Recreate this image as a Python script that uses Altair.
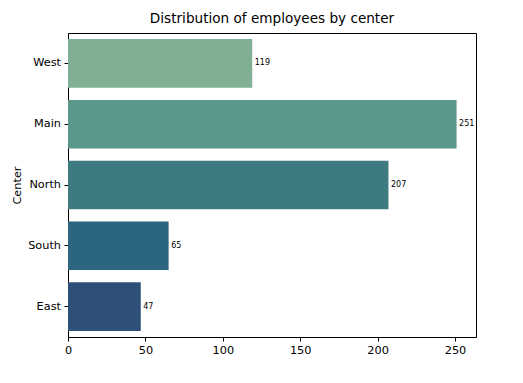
import altair as alt
import pandas as pd

centers = ["West", "Main", "North", "South", "East"]
counts = [119, 251, 207, 65, 47]
colors = ["#7FB093", "#5B968A", "#3E7B80", "#2C657F", "#2E5078"]

df = pd.DataFrame({"center": centers, "count": counts})

font = "DejaVu Sans"

y = alt.Y("center:N", sort=centers, title="Center",
          scale=alt.Scale(paddingInner=0.2, paddingOuter=0.1),
          axis=alt.Axis(labelFontSize=11.3, titleFontSize=11.3, titleFontWeight="normal",
                        labelColor="black", titleColor="black", tickColor="black",
                        domainColor="black", tickSize=4, labelPadding=3.5, titlePadding=5,
                        labelFont=font, titleFont=font))
x = alt.X("count:Q", title=None,
          scale=alt.Scale(domain=[0, 263.55], nice=False, zero=True),
          axis=alt.Axis(values=[0, 50, 100, 150, 200, 250], grid=False,
                        labelFontSize=11.3, labelColor="black", tickColor="black",
                        domainColor="black", tickSize=4, labelPadding=3.5,
                        labelFont=font, labelFlush=False))

bars = alt.Chart(df).mark_bar().encode(
    y=y, x=x,
    color=alt.Color("center:N", scale=alt.Scale(domain=centers, range=colors), legend=None),
)
labels = alt.Chart(df).mark_text(align="left", baseline="middle", dx=2.5, fontSize=8,
                                 font=font, color="black").encode(
    y=alt.Y("center:N", sort=centers), x=alt.X("count:Q"), text="count:Q")

chart = (bars + labels).properties(
    width=408, height=304,
    title=alt.TitleParams("Distribution of employees by center", fontSize=13.6,
                          fontWeight="normal", font=font, color="black", offset=7),
    autosize=alt.AutoSizeParams(type="none"),
    padding={"left": 60, "top": 25, "right": 30, "bottom": 40},
).configure_view(stroke="black", strokeWidth=1)

chart.save("out.html", embed_options={"renderer": "svg", "actions": False})
